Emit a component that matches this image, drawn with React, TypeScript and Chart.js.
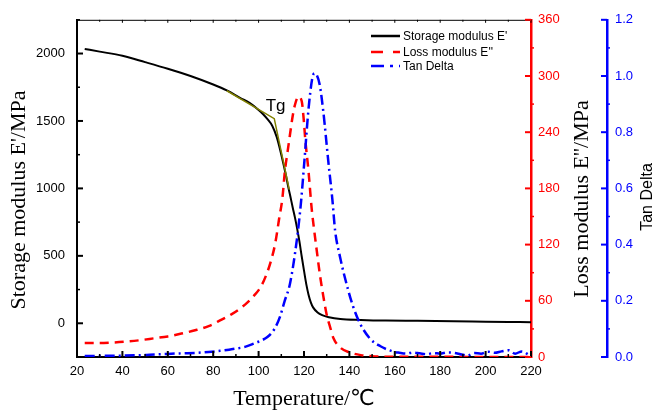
import React, { useEffect, useRef } from 'react';
import { Chart, registerables } from 'chart.js';

Chart.register(...registerables);

// ---- Data ----
const storageTemp = [23.4, 30, 40, 50, 60, 70, 80, 86, 92, 96, 100, 102, 104, 106, 108, 110, 112, 113, 114, 115, 116, 117, 118, 119, 120, 121, 122, 123, 124, 126, 128, 131, 136, 145, 156, 170, 186, 200, 210, 220];
const storageModulus = [2034, 2014, 1983, 1936, 1887, 1833, 1770, 1726, 1670, 1634, 1582, 1550, 1512, 1465, 1380, 1250, 1100, 1015, 940, 860, 785, 700, 605, 495, 390, 290, 212, 155, 118, 80, 60, 45, 32, 25, 20, 18, 15, 12, 10, 8];

const lossTemp = [23.4, 30, 36, 42, 48, 54, 60, 66, 72, 78, 83, 88, 92, 95, 98, 101, 103.6, 105.5, 107.3, 109, 110.5, 111.6, 112.7, 113.8, 115, 116, 117.5, 119, 120, 120.5, 122, 123.4, 124.5, 125.6, 127, 128.5, 130, 131.5, 133, 136, 140, 145, 150, 160, 180, 200, 220];
const lossModulus = [15, 15, 15.5, 16.5, 18, 20, 22, 25, 28.5, 33, 39, 45.5, 52, 58, 65.5, 75, 89, 103, 121, 147, 170, 199, 218, 237, 257, 269, 278, 273, 250, 234, 198, 158, 135, 114, 88, 65, 45, 32, 20, 10, 5, 2, 0.8, 0.3, 0.2, 0.1, 0.1];

const tanTemp = [23.4, 30, 40, 46, 52, 60, 66, 73, 78, 83, 87, 90, 94, 98, 101, 104, 107, 109.4, 111.5, 113.8, 116.8, 118.6, 120.2, 121.9, 123.6, 124.6, 125.8, 126.9, 128.5, 130.7, 132.5, 133.7, 135.9, 139.5, 141.7, 144.7, 149, 153.5, 159.4, 162, 165, 168, 171, 174, 177, 180, 183, 186, 189, 192, 195, 198, 201, 204, 207, 210, 213, 216, 219];
const tanDelta = [0.004, 0.004, 0.005, 0.006, 0.008, 0.011, 0.013, 0.015, 0.018, 0.022, 0.026, 0.03, 0.036, 0.048, 0.058, 0.072, 0.1, 0.143, 0.2, 0.26, 0.414, 0.544, 0.7, 0.874, 0.99, 1.01, 1.0, 0.97, 0.874, 0.697, 0.56, 0.45, 0.355, 0.237, 0.178, 0.119, 0.066, 0.039, 0.019, 0.015, 0.012, 0.016, 0.013, 0.01, 0.014, 0.012, 0.016, 0.015, 0.01, 0.005, 0.014, 0.012, 0.019, 0.015, 0.02, 0.024, 0.012, 0.02, 0.008];

const tangentTemp = [86, 106.9, 113.5];
const tangentModulus = [1724, 1517, 992];

const xTicks = [20, 40, 60, 80, 100, 120, 140, 160, 180, 200, 220];
const storageTicks = [0, 500, 1000, 1500, 2000];
const lossTicks = [0, 60, 120, 180, 240, 300, 360];
const tanTicks = [0, 0.2, 0.4, 0.6, 0.8, 1.0, 1.2];

const legendLabels = ["Storage modulus E'", "Loss modulus E''", 'Tan Delta'];

const SANS = '"Liberation Sans", Arial, sans-serif';
const SERIF = '"Liberation Serif", "Times New Roman", serif';

const toPoints = (xs: number[], ys: number[]) => xs.map((x, i) => ({ x, y: ys[i] }));

const decorPlugin = {
  id: 'decor',
  afterDraw(chart: any) {
    const { ctx, chartArea, scales } = chart;
    const x = scales.x;
    const y = scales.y;
    const y1 = scales.y1;
    const y2 = scales.y2;
    ctx.save();

    // top frame
    ctx.strokeStyle = '#000';
    ctx.lineWidth = 1;
    ctx.beginPath();
    ctx.moveTo(chartArea.left, chartArea.top + 0.5);
    ctx.lineTo(chartArea.right, chartArea.top + 0.5);
    ctx.stroke();

    const line = (x1: number, yy1: number, x2: number, yy2: number, color: string, w: number) => {
      ctx.strokeStyle = color;
      ctx.lineWidth = w;
      ctx.beginPath();
      ctx.moveTo(x1, yy1);
      ctx.lineTo(x2, yy2);
      ctx.stroke();
    };

    // x ticks (bottom, inward) and top ticks
    for (let v = 20; v <= 220; v += 10) {
      const px = x.getPixelForValue(v);
      const major = v % 20 === 0;
      line(px, chartArea.bottom, px, chartArea.bottom - (major ? 6 : 3), '#000', major ? 2 : 1.5);
      line(px, chartArea.top, px, chartArea.top + (major ? 3 : 2), '#000', 1);
    }
    // left y ticks
    for (let v = -250; v <= 2250; v += 250) {
      const py = y.getPixelForValue(v);
      const major = v % 500 === 0;
      line(chartArea.left, py, chartArea.left + (major ? 6 : 3), py, '#000', major ? 2 : 1.5);
    }
    // red axis ticks
    const rx = y1.left;
    for (let v = 0; v <= 360; v += 30) {
      const py = y1.getPixelForValue(v);
      if (v % 60 === 0) line(rx, py, rx - 6, py, '#ff0000', 2);
      else line(rx, py, rx + 3, py, '#ff0000', 1.5);
    }
    // blue axis ticks
    const bx = y2.left;
    for (let i = 0; i <= 12; i++) {
      const v = i / 10;
      const py = y2.getPixelForValue(v);
      if (i % 2 === 0) line(bx, py, bx - 6, py, '#0000ff', 2);
      else line(bx, py, bx + 3, py, '#0000ff', 1.5);
    }

    // axis titles
    ctx.fillStyle = '#000';
    ctx.textBaseline = 'middle';
    ctx.textAlign = 'center';
    ctx.font = '22px ' + SERIF;
    ctx.save();
    ctx.translate(19, 200);
    ctx.rotate(-Math.PI / 2);
    ctx.fillText("Storage modulus E'/MPa", 0, 0);
    ctx.restore();

    ctx.save();
    ctx.translate(582, 199);
    ctx.rotate(-Math.PI / 2);
    ctx.fillText("Loss modulus E''/MPa", 0, 0);
    ctx.restore();

    ctx.save();
    ctx.font = '16px ' + SANS;
    ctx.translate(648, 197);
    ctx.rotate(-Math.PI / 2);
    ctx.fillText('Tan Delta', 0, 0);
    ctx.restore();

    ctx.textBaseline = 'alphabetic';
    ctx.font = '22px "Liberation Serif", "DejaVu Sans", serif';
    ctx.fillText('Temperature/℃', (chartArea.left + chartArea.right) / 2, 405);

    // Tg label
    ctx.font = '17px ' + SANS;
    ctx.textAlign = 'center';
    ctx.fillText('Tg', x.getPixelForValue(107.5), y.getPixelForValue(1575));

    // legend
    const lx1 = 371;
    const lx2 = 400;
    const rows = [36, 52, 66];
    const colors = ['#000000', '#ff0000', '#0000ff'];
    const dashes = [[], [12, 10], [13, 6, 3, 6]];
    ctx.font = '12px ' + SANS;
    ctx.textAlign = 'left';
    ctx.textBaseline = 'middle';
    for (let i = 0; i < 3; i++) {
      ctx.setLineDash(dashes[i]);
      line(lx1, rows[i], lx2, rows[i], colors[i], 2.5);
      ctx.setLineDash([]);
      ctx.fillStyle = '#000';
      ctx.fillText(legendLabels[i], 403, rows[i] + 0.5);
    }
    ctx.restore();
  },
};

export default function App() {
  const ref = useRef<HTMLCanvasElement>(null);
  useEffect(() => {
    document.body.style.margin = '0';
    const chart = new Chart(ref.current as HTMLCanvasElement, {
      type: 'line',
      data: {
        datasets: [
          {
            label: 'Tangent',
            data: toPoints(tangentTemp, tangentModulus),
            borderColor: '#808000',
            borderWidth: 1.5,
            pointRadius: 0,
            yAxisID: 'y',
            tension: 0,
          },
          {
            label: legendLabels[2],
            data: toPoints(tanTemp, tanDelta),
            borderColor: '#0000ff',
            borderWidth: 2.5,
            borderDash: [10, 4, 2, 4],
            pointRadius: 0,
            yAxisID: 'y2',
            cubicInterpolationMode: 'monotone',
          },
          {
            label: legendLabels[1],
            data: toPoints(lossTemp, lossModulus),
            borderColor: '#ff0000',
            borderWidth: 2.5,
            borderDash: [9, 6],
            pointRadius: 0,
            yAxisID: 'y1',
            cubicInterpolationMode: 'monotone',
          },
          {
            label: legendLabels[0],
            data: toPoints(storageTemp, storageModulus),
            borderColor: '#000000',
            borderWidth: 2,
            pointRadius: 0,
            yAxisID: 'y',
            cubicInterpolationMode: 'monotone',
          },
        ],
      } as any,
      options: {
        responsive: false,
        animation: false,
        devicePixelRatio: 1,
        layout: { padding: { top: 18, left: 0, right: 0, bottom: 0 } },
        plugins: { legend: { display: false }, tooltip: { enabled: false } },
        scales: {
          x: {
            type: 'linear',
            position: 'bottom',
            min: 20,
            max: 220,
            afterBuildTicks: (s: any) => { s.ticks = xTicks.map((v) => ({ value: v })); },
            afterFit: (s: any) => { s.height = 55; },
            ticks: { color: '#000', font: { family: SANS, size: 13 }, padding: 7, maxRotation: 0, autoSkip: false, callback: (v: any) => String(v) },
            grid: { drawOnChartArea: false, drawTicks: false },
            border: { color: '#000', width: 2 },
          },
          y: {
            type: 'linear',
            position: 'left',
            min: -250,
            max: 2250,
            afterBuildTicks: (s: any) => { s.ticks = storageTicks.map((v) => ({ value: v })); },
            afterFit: (s: any) => { s.width = 77; },
            ticks: { color: '#000', font: { family: SANS, size: 13 }, padding: 12, callback: (v: any) => String(v) },
            grid: { drawOnChartArea: false, drawTicks: false },
            border: { color: '#000', width: 2 },
          },
          y1: {
            type: 'linear',
            position: 'right',
            min: 0,
            max: 360,
            afterBuildTicks: (s: any) => { s.ticks = lossTicks.map((v) => ({ value: v })); },
            afterFit: (s: any) => { s.width = 76; },
            ticks: { color: '#ff0000', font: { family: SANS, size: 13 }, padding: 7, callback: (v: any) => String(v) },
            grid: { drawOnChartArea: false, drawTicks: false },
            border: { color: '#ff0000', width: 2.5 },
          },
          y2: {
            type: 'linear',
            position: 'right',
            min: 0,
            max: 1.2,
            afterBuildTicks: (s: any) => { s.ticks = tanTicks.map((v) => ({ value: v })); },
            afterFit: (s: any) => { s.width = 50; },
            ticks: {
              color: '#0000ff',
              font: { family: SANS, size: 13 },
              padding: 8,
              callback: (v: any) => Number(v).toFixed(1),
            },
            grid: { drawOnChartArea: false, drawTicks: false },
            border: { color: '#0000ff', width: 2.5 },
          },
        },
      } as any,
      plugins: [decorPlugin],
    });
    return () => chart.destroy();
  }, []);
  return (
    <div style={{ position: 'relative', width: 657, height: 412 }}>
      <canvas ref={ref} width={657} height={412} style={{ display: 'block' }} />
    </div>
  );
}
